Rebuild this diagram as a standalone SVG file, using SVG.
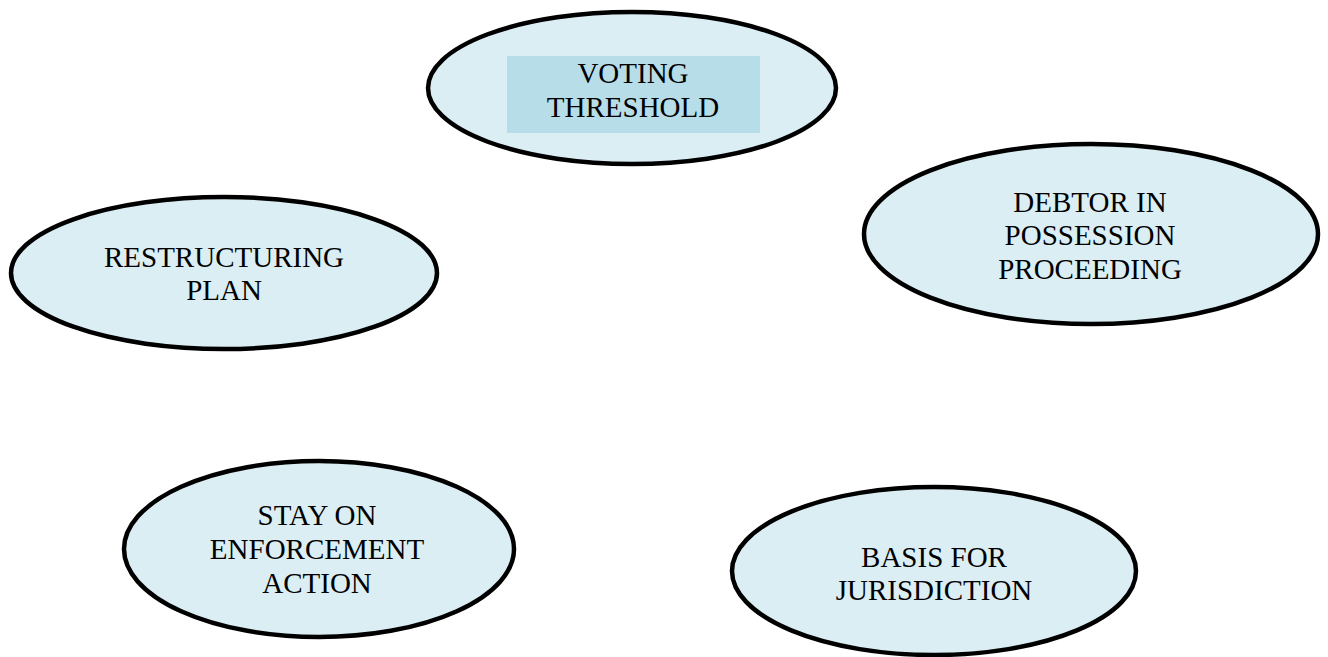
<svg xmlns="http://www.w3.org/2000/svg" width="1328" height="657" viewBox="0 0 1328 657">
<style>
.n{fill:#dbeef4;stroke:#000;stroke-width:4.5}
.t{font-family:"Liberation Serif","Times New Roman",serif;font-size:29px;fill:#000;text-anchor:middle}
</style>
<rect width="1328" height="657" fill="#fff"/>
<g id="connectors"></g>
<g id="node-voting">
<ellipse class="n" cx="632" cy="88" rx="204" ry="76"/>
<rect x="507" y="56" width="253" height="77" fill="#b7dde8"/>
<text class="t" x="633" y="83">VOTING</text>
<text class="t" x="633" y="117">THRESHOLD</text>
</g>
<g id="node-restructuring">
<ellipse class="n" cx="224" cy="273" rx="213" ry="76"/>
<text class="t" x="224" y="267">RESTRUCTURING</text>
<text class="t" x="224" y="300">PLAN</text>
</g>
<g id="node-debtor">
<ellipse class="n" cx="1091" cy="234" rx="227" ry="90"/>
<text class="t" x="1090" y="212">DEBTOR IN</text>
<text class="t" x="1090" y="245">POSSESSION</text>
<text class="t" x="1090" y="279">PROCEEDING</text>
</g>
<g id="node-stay">
<ellipse class="n" cx="319" cy="549" rx="195" ry="88"/>
<text class="t" x="317" y="525">STAY ON</text>
<text class="t" x="317" y="559">ENFORCEMENT</text>
<text class="t" x="317" y="593">ACTION</text>
</g>
<g id="node-basis">
<ellipse class="n" cx="934" cy="571" rx="202" ry="84"/>
<text class="t" x="934" y="567">BASIS FOR</text>
<text class="t" x="934" y="600">JURISDICTION</text>
</g>
</svg>
